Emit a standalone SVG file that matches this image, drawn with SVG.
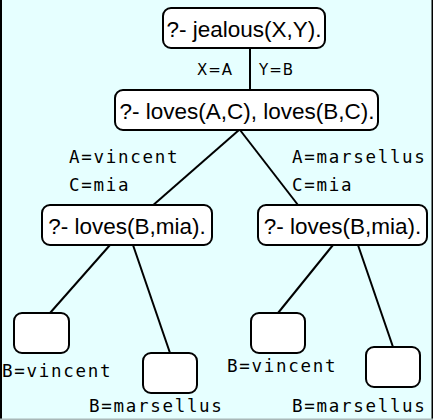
<svg xmlns="http://www.w3.org/2000/svg" width="433" height="420" viewBox="0 0 433 420">
<style>
.bg{fill:#e6ffff}
.box{fill:#ffffff;stroke:#000;stroke-width:2}
.edge{stroke:#000;stroke-width:2;fill:none}
.goal{font-family:"Liberation Sans",Arial,sans-serif;font-size:22.5px;fill:#000;text-anchor:middle}
.sub{font-family:"DejaVu Sans Mono",monospace;font-size:17.5px;letter-spacing:1.7px;fill:#000}
.lab{font-family:"DejaVu Sans",sans-serif;font-size:15px;letter-spacing:1px;fill:#000}
</style>
<rect class="bg" x="0" y="0" width="433" height="420"/>
<rect x="0" y="0" width="2" height="420" fill="#000"/>
<rect x="431.5" y="0" width="1.5" height="420" fill="#000"/>
<rect x="0" y="418.5" width="433" height="1.5" fill="#a8b8b8"/>
<g id="connectors">
<line class="edge" x1="250" y1="48" x2="250" y2="90"/>
<line class="edge" x1="239" y1="130" x2="151" y2="207"/>
<line class="edge" x1="240" y1="130" x2="298" y2="205"/>
<line class="edge" x1="110" y1="245" x2="50" y2="313"/>
<line class="edge" x1="133" y1="245" x2="170" y2="353"/>
<line class="edge" x1="333" y1="245" x2="278" y2="313"/>
<line class="edge" x1="358" y1="245" x2="393" y2="347"/>
<text class="lab" x="197" y="75">X=A</text>
<text class="lab" x="259" y="75">Y=B</text>
<text class="sub" x="69" y="163">A=vincent</text>
<text class="sub" x="69" y="191">C=mia</text>
<text class="sub" x="292" y="163">A=marsellus</text>
<text class="sub" x="292" y="191">C=mia</text>
<text class="sub" x="2" y="377">B=vincent</text>
<text class="sub" x="89" y="412">B=marsellus</text>
<text class="sub" x="227" y="372">B=vincent</text>
<text class="sub" x="292" y="412">B=marsellus</text>
</g>
<g id="n0"><rect class="box" x="163" y="8" width="162" height="40" rx="8"/><text class="goal" x="244" y="37">?- jealous(X,Y).</text></g>
<g id="n1"><rect class="box" x="115" y="90" width="263" height="40" rx="8"/><text class="goal" x="247" y="119">?- loves(A,C), loves(B,C).</text></g>
<g id="n2"><rect class="box" x="42" y="205" width="170" height="40" rx="8"/><text class="goal" x="127" y="234">?- loves(B,mia).</text></g>
<g id="n3"><rect class="box" x="258" y="205" width="169" height="40" rx="8"/><text class="goal" x="342.5" y="234">?- loves(B,mia).</text></g>
<g id="n4"><rect class="box" x="14" y="313" width="55" height="40" rx="8"/></g>
<g id="n5"><rect class="box" x="143" y="353" width="54" height="40" rx="8"/></g>
<g id="n6"><rect class="box" x="251" y="313" width="54" height="40" rx="8"/></g>
<g id="n7"><rect class="box" x="366" y="347" width="54" height="40" rx="8"/></g>
</svg>
